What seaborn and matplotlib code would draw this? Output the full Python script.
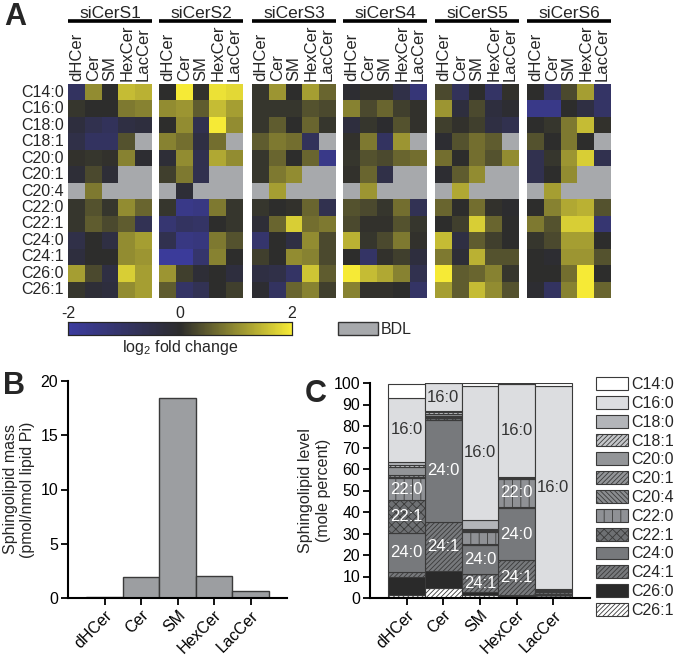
import numpy as np
import matplotlib
matplotlib.use('Agg')
import matplotlib.pyplot as plt
from matplotlib.colors import LinearSegmentedColormap
from matplotlib.patches import Patch, Rectangle
import seaborn as sns

nan = np.nan
classes = ['dHCer', 'Cer', 'SM', 'HexCer', 'LacCer']
species = ['C14:0', 'C16:0', 'C18:0', 'C18:1', 'C20:0', 'C20:1', 'C20:4',
           'C22:0', 'C22:1', 'C24:0', 'C24:1', 'C26:0', 'C26:1']
knockdowns = ['siCerS1', 'siCerS2', 'siCerS3', 'siCerS4', 'siCerS5', 'siCerS6']

# log2 fold change, rows = species, cols = classes (nan = below detection limit)
fc_s1 = [[-0.9, 1.0, 0.0, 1.5, 1.4],
         [0.1, 0.0, 0.0, 0.8, 0.9],
         [-0.3, -0.6, -0.8, -0.4, -0.3],
         [-0.5, -0.9, -0.9, 0.4, nan],
         [0.05, 0.1, 0.05, 0.9, -0.1],
         [-0.2, 0.3, -0.2, nan, nan],
         [nan, 0.8, nan, nan, nan],
         [0.1, 0.4, 0.1, 1.0, 0.6],
         [0.1, 0.5, 0.3, 0.5, -0.7],
         [-0.5, 0.0, -0.4, 1.0, 1.2],
         [-0.3, 0.0, 0.0, 1.0, 1.1],
         [1.2, 0.3, -0.4, 1.7, 1.2],
         [0.1, -0.2, -0.3, 1.0, 1.2]]
fc_s2 = [[0.0, 2.0, 0.05, 1.9, 1.8],
         [1.0, 1.1, 0.5, 1.5, 1.2],
         [0.0, 1.0, -0.6, 2.0, 1.0],
         [0.9, 0.7, -0.4, 0.7, nan],
         [-0.2, 1.0, -0.6, 1.3, 1.0],
         [0.2, 0.8, -0.6, nan, nan],
         [nan, -0.2, nan, nan, nan],
         [0.1, -1.6, -1.5, 0.8, 0.1],
         [-1.2, -0.9, -1.0, 0.0, 0.1],
         [-0.6, -1.5, -1.4, 0.8, 0.4],
         [-1.9, -1.9, -1.1, 0.9, 0.0],
         [1.1, 0.2, -0.2, 0.0, -0.3],
         [0.5, -1.0, -0.7, 0.0, 0.2]]
fc_s3 = [[0.1, 1.1, 0.0, 1.2, 0.6],
         [0.1, 0.1, 0.1, 0.4, 0.3],
         [0.1, 0.5, 0.0, 0.6, 0.1],
         [0.5, 0.8, 0.7, -0.8, nan],
         [0.1, 0.6, 0.0, 0.6, -1.6],
         [0.1, 0.8, 1.0, nan, nan],
         [nan, 1.2, nan, nan, nan],
         [0.1, 0.0, 0.05, 0.6, -0.6],
         [-0.2, 0.6, 1.7, 0.7, 0.8],
         [-1.1, 0.0, -0.4, 1.0, 0.3],
         [0.2, 0.0, 1.0, 0.9, 0.3],
         [-0.4, -0.5, -1.0, 1.6, 0.5],
         [-0.1, -0.9, 0.6, 0.9, 0.2]]
fc_s4 = [[-0.1, 0.05, 0.05, -0.5, -1.3],
         [0.9, 0.3, 0.6, 0.2, 0.05],
         [-0.3, 0.1, -0.05, 0.4, 0.05],
         [0.05, 0.8, -0.9, 1.1, nan],
         [0.1, 0.4, 0.3, 0.6, 0.7],
         [0.05, 0.6, -0.5, nan, nan],
         [nan, 1.1, nan, nan, nan],
         [0.4, 0.3, 0.1, 0.7, -0.7],
         [0.3, 0.05, 0.05, 0.4, 0.1],
         [1.4, 0.1, 0.3, 0.8, 0.05],
         [0.0, -1.0, 0.05, 0.2, -0.3],
         [2.0, 1.5, 1.3, 0.9, -0.6],
         [0.9, 0.05, 0.05, 0.0, -1.0]]
fc_s5 = [[0.3, -0.8, 0.0, -1.0, 0.05],
         [1.1, -0.3, 0.3, -0.3, -0.1],
         [0.2, 0.05, 0.2, -0.4, -0.6],
         [-0.1, 0.4, 0.7, 0.5, nan],
         [0.7, 0.0, 0.7, 0.4, 1.0],
         [-0.1, 0.5, 1.0, nan, nan],
         [nan, 1.3, nan, nan, nan],
         [0.6, 0.0, 0.7, 0.05, -0.05],
         [0.0, 0.2, 1.7, 0.6, 0.0],
         [1.5, -0.4, 0.5, 0.2, 0.0],
         [0.8, -0.2, 1.4, 0.4, 0.4],
         [2.0, 0.5, 0.6, 0.9, 0.1],
         [1.2, 0.5, 1.5, 1.0, 0.4]]
fc_s6 = [[0.0, -1.0, 0.3, 1.2, -1.0],
         [-1.6, -1.6, 0.0, -0.4, -1.0],
         [0.0, 0.1, 0.8, 1.5, 0.05],
         [0.4, 0.0, 0.8, 0.0, nan],
         [-0.6, 0.1, 1.1, 1.7, -0.6],
         [-0.6, 0.0, 1.0, nan, nan],
         [nan, 1.2, nan, nan, nan],
         [0.0, 0.9, 1.3, 1.4, 0.4],
         [0.8, 0.4, 1.7, 1.7, -1.2],
         [0.1, 0.3, 1.2, 1.2, 0.0],
         [0.0, -0.1, 1.1, 1.1, 0.4],
         [0.0, 0.0, 0.7, 2.0, 0.0],
         [-0.1, -0.9, 0.9, 2.0, 0.6]]

# sphingolipid mass (pmol/nmol lipid Pi)
mass = [0.05, 1.95, 18.4, 2.05, 0.65]

# mole percent of each species (order as `species`) within each class
pct_dhcer = [6.4, 30.0, 1.5, 1.0, 3.5, 1.0, 0.5, 10.1, 15.5, 17.9, 2.3, 8.5, 1.4]
pct_cer = [0.5, 12.7, 0.8, 0.5, 1.0, 0.5, 0.3, 0.5, 0.5, 47.8, 22.8, 7.8, 4.6]
pct_sm = [1.4, 62.3, 4.2, 0.3, 0.6, 0.2, 0.1, 5.9, 0.3, 13.5, 8.6, 1.2, 1.4]
pct_hexcer = [0.5, 43.5, 0.2, 0.1, 0.1, 0.1, 0.1, 13.2, 0.4, 24.4, 15.9, 0.6, 1.0]
pct_laccer = [1.2, 94.7, 0.3, 0.2, 0.3, 0.1, 0.1, 0.5, 0.6, 0.8, 0.6, 0.3, 0.3]

sns.set_style('ticks')
plt.rcParams['font.family'] = ['Liberation Sans', 'DejaVu Sans']
plt.rcParams['mathtext.fontset'] = 'custom'
plt.rcParams['mathtext.rm'] = 'Liberation Sans'
plt.rcParams['hatch.linewidth'] = 0.6

W, H = 674, 660
fig = plt.figure(figsize=(W / 100, H / 100), dpi=100)


def box(x0, y0, x1, y1):
    return [x0 / W, 1 - y1 / H, (x1 - x0) / W, (y1 - y0) / H]


# ---- panel A: heatmaps ----
cmap = LinearSegmentedColormap.from_list('byl', ['#3c3c9f', '#2c2c2c', '#f6ea36'])
bdl = '#a7a9ac'
fc_all = [fc_s1, fc_s2, fc_s3, fc_s4, fc_s5, fc_s6]
starts = [68, 159, 252, 343, 435, 527]
cax = fig.add_axes(box(68, 322, 292, 335))
for i, (name, fc) in enumerate(zip(knockdowns, fc_all)):
    ax = fig.add_axes(box(starts[i], 84, starts[i] + 84, 298))
    ax.set_facecolor(bdl)
    sns.heatmap(np.array(fc), ax=ax, cmap=cmap, vmin=-2, vmax=2,
                xticklabels=classes,
                yticklabels=species if i == 0 else False,
                cbar=(i == 0), cbar_ax=cax if i == 0 else None,
                cbar_kws={'orientation': 'horizontal'})
    ax.tick_params(axis='x', top=True, bottom=False, labeltop=True,
                   labelbottom=False, length=0, pad=2, labelsize=12)
    plt.setp(ax.get_xticklabels(), rotation=90, va='bottom', ha='center')
    if i == 0:
        ax.tick_params(axis='y', length=0, pad=3, labelsize=11.5)
        plt.setp(ax.get_yticklabels(), rotation=0)
    ax.plot([0, 1], [1.294, 1.294], transform=ax.transAxes, color='black',
            lw=2.6, clip_on=False, solid_capstyle='butt')
    ax.text(0.5, 1.31, name, transform=ax.transAxes, ha='center',
            va='baseline', fontsize=12.5)

cax.xaxis.set_ticks_position('top')
cax.set_xticks([-2, 0, 2])
cax.set_xticklabels(['-2', '0', '2'])
cax.tick_params(axis='x', length=0, pad=1, labelsize=11.5)
for s in cax.spines.values():
    s.set_visible(True)
    s.set_linewidth(0.8)
cax.set_xlabel(r'log$_\mathregular{2}$ fold change', fontsize=11.5, labelpad=2)
cax.xaxis.set_label_position('bottom')

fig.add_artist(Rectangle((338 / W, 1 - 335 / H), 40 / W, 13 / H,
                         transform=fig.transFigure, facecolor=bdl,
                         edgecolor='#333333', lw=1))
fig.text(381 / W, 1 - 329 / H, 'BDL', fontsize=11.5, va='center')

# ---- panel B: total mass ----
axb = fig.add_axes(box(68, 381, 287, 598))
sns.barplot(x=classes, y=mass, ax=axb, width=1, color='#9c9ea1',
            saturation=1, edgecolor='#3a3a3a', linewidth=1)
axb.set_xlim(-1, 5)
axb.set_ylim(0, 20)
axb.set_yticks([0, 5, 10, 15, 20])
axb.set_ylabel('Sphingolipid mass\n(pmol/nmol lipid Pi)', fontsize=11.5,
               labelpad=4)
sns.despine(ax=axb)

# ---- panel C: mole percent stacked ----
pct = np.array([pct_dhcer, pct_cer, pct_sm, pct_hexcer, pct_laccer])
styles = {
    'C14:0': ('white', ''),
    'C16:0': ('#dcdde0', ''),
    'C18:0': ('#b3b5b9', ''),
    'C18:1': ('#c4c6c9', '///////'),
    'C20:0': ('#939598', ''),
    'C20:1': ('#939598', '///////'),
    'C20:4': ('#8a8c8f', '\\\\\\\\\\\\\\'),
    'C22:0': ('#8f9195', '||'),
    'C22:1': ('#6e7073', 'xxxx'),
    'C24:0': ('#77797c', ''),
    'C24:1': ('#77797c', '///////'),
    'C26:0': ('#2a2a2a', ''),
    'C26:1': ('white', '///////'),
}
axc = fig.add_axes(box(370, 383, 590, 598))
xpos = np.arange(len(classes))
bottom = np.zeros(len(classes))
seg = {}
for j in range(len(species) - 1, -1, -1):
    sp = species[j]
    fcol, hatch = styles[sp]
    axc.bar(xpos, pct[:, j], bottom=bottom, width=1, color=fcol, hatch=hatch,
            edgecolor='#3a3a3a', linewidth=0.8)
    for k in range(len(classes)):
        seg[(k, sp)] = bottom[k] + pct[k, j] / 2
    bottom = bottom + pct[:, j]

labels_c = {0: ['C16:0', 'C22:0', 'C22:1', 'C24:0'],
            1: ['C16:0', 'C24:0', 'C24:1'],
            2: ['C16:0', 'C24:0', 'C24:1'],
            3: ['C16:0', 'C22:0', 'C24:0', 'C24:1'],
            4: ['C16:0']}
for k, sps in labels_c.items():
    for sp in sps:
        axc.text(k, seg[(k, sp)], sp[1:], ha='center', va='center',
                 fontsize=12, color='#333333' if sp == 'C16:0' else 'white')

axc.set_xlim(-1, 5)
axc.set_ylim(0, 100)
axc.set_yticks(range(0, 101, 10))
axc.set_xticks(xpos)
axc.set_xticklabels(classes)
axc.set_ylabel('Sphingolipid level\n(mole percent)', fontsize=11.5, labelpad=2)
sns.despine(ax=axc)

for ax in (axb, axc):
    for s in ('left', 'bottom'):
        ax.spines[s].set_linewidth(1.5)
        ax.spines[s].set_color('black')
    ax.tick_params(width=1.3, length=5, labelsize=11.5, colors='black', pad=2)
    plt.setp(ax.get_xticklabels(), rotation=45, ha='right',
             rotation_mode='anchor')

handles = [Patch(facecolor=styles[sp][0], hatch=styles[sp][1],
                 edgecolor='#3a3a3a', lw=0.8) for sp in species]
fig.legend(handles, species, loc='upper left',
           bbox_to_anchor=(596 / W, 1 - 377 / H), frameon=False,
           fontsize=11.5, handlelength=2.0, handleheight=0.85,
           labelspacing=0.24, handletextpad=0.2, borderaxespad=0,
           borderpad=0)

# panel letters
fig.text(15 / W, 1 - 17 / H, 'A', fontsize=22, fontweight='bold',
         ha='center', va='center')
fig.text(14 / W, 1 - 386 / H, 'B', fontsize=22, fontweight='bold',
         ha='center', va='center')
fig.text(316 / W, 1 - 394 / H, 'C', fontsize=22, fontweight='bold',
         ha='center', va='center')

fig.savefig('out.png', dpi=100)
